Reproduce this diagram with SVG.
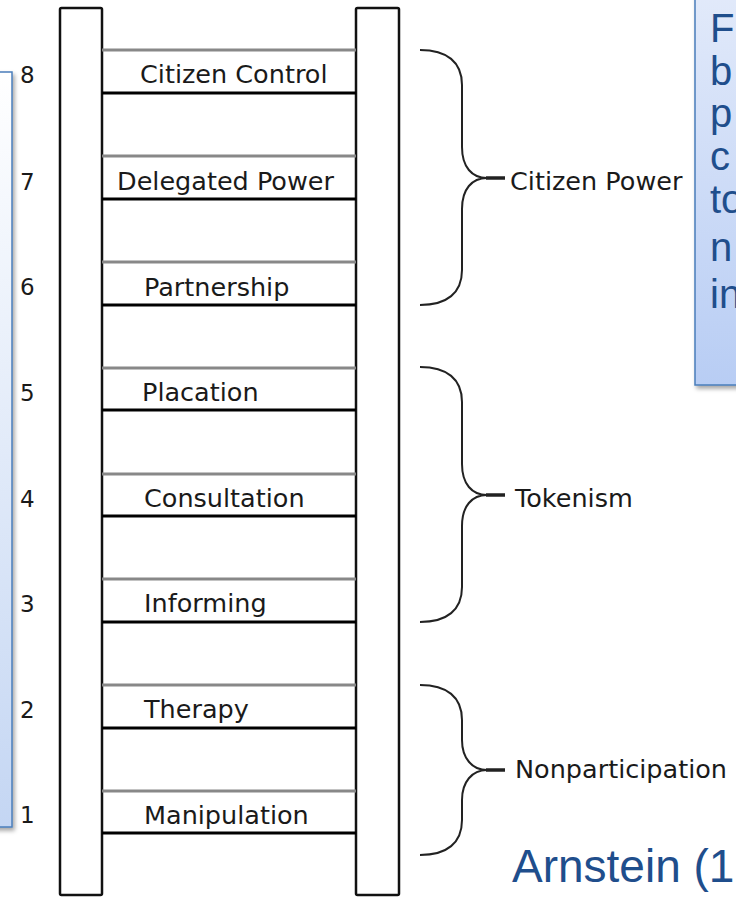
<svg xmlns="http://www.w3.org/2000/svg" width="736" height="897" viewBox="0 0 736 897">
<defs>
  <linearGradient id="gLeft" x1="0" y1="0" x2="0" y2="1">
    <stop offset="0" stop-color="#ffffff"/>
    <stop offset="1" stop-color="#c4d6f3"/>
  </linearGradient>
  <linearGradient id="gRight" x1="0" y1="0" x2="0" y2="1">
    <stop offset="0" stop-color="#e2eafa"/>
    <stop offset="1" stop-color="#b8cdf4"/>
  </linearGradient>
  <filter id="shadow" x="-50%" y="-10%" width="200%" height="120%">
    <feDropShadow dx="2" dy="3" stdDeviation="2" flood-color="#000" flood-opacity="0.35"/>
  </filter>
</defs>
<style>
  .rail { fill: #ffffff; stroke: #111; stroke-width: 2.5; }
  .rtop { stroke: #888; stroke-width: 3; }
  .rbot { stroke: #000; stroke-width: 3; }
  .lbl { font-family: "DejaVu Sans", sans-serif; font-size: 25.5px; fill: #1a1a1a; }
  .num { font-family: "DejaVu Sans", sans-serif; font-size: 23px; fill: #1a1a1a; }
  .brace { fill: none; stroke: #222; stroke-width: 2; }
  .stub { stroke: #222; stroke-width: 3.5; }
  .blue { font-family: "Liberation Sans", Arial, sans-serif; fill: #1f4e8c; }
  .box { stroke: #4a7ebb; stroke-width: 1.5; }
</style>

<g id="left-box">
  <rect class="box" x="-10" y="72" width="22" height="755" fill="url(#gLeft)" filter="url(#shadow)"/>
</g>

<g id="right-box">
  <rect class="box" x="695" y="-10" width="60" height="395" fill="url(#gRight)" filter="url(#shadow)"/>
  <text class="blue" font-size="40" x="710" y="42">F</text>
  <text class="blue" font-size="40" x="710" y="85">b</text>
  <text class="blue" font-size="40" x="710" y="127">p</text>
  <text class="blue" font-size="40" x="710" y="170">c</text>
  <text class="blue" font-size="40" x="710" y="213">to</text>
  <text class="blue" font-size="40" x="710" y="261">n</text>
  <text class="blue" font-size="40" x="710" y="308">in</text>
</g>

<g id="rails">
  <rect class="rail" x="60" y="8" width="42" height="887" rx="1.5"/>
  <rect class="rail" x="356" y="8" width="43" height="887" rx="1.5"/>
</g>

<g id="rung-8">
  <line class="rtop" x1="102" y1="50" x2="356" y2="50"/>
  <line class="rbot" x1="102" y1="93" x2="356" y2="93"/>
  <text class="lbl" x="140" y="83">Citizen Control</text>
  <text class="num" x="20" y="83">8</text>
</g>
<g id="rung-7">
  <line class="rtop" x1="102" y1="156" x2="356" y2="156"/>
  <line class="rbot" x1="102" y1="199" x2="356" y2="199"/>
  <text class="lbl" x="117" y="190">Delegated Power</text>
  <text class="num" x="20" y="190">7</text>
</g>
<g id="rung-6">
  <line class="rtop" x1="102" y1="262" x2="356" y2="262"/>
  <line class="rbot" x1="102" y1="305" x2="356" y2="305"/>
  <text class="lbl" x="144" y="296">Partnership</text>
  <text class="num" x="20" y="295">6</text>
</g>
<g id="rung-5">
  <line class="rtop" x1="102" y1="368" x2="356" y2="368"/>
  <line class="rbot" x1="102" y1="410" x2="356" y2="410"/>
  <text class="lbl" x="142" y="401">Placation</text>
  <text class="num" x="20" y="401">5</text>
</g>
<g id="rung-4">
  <line class="rtop" x1="102" y1="474" x2="356" y2="474"/>
  <line class="rbot" x1="102" y1="516" x2="356" y2="516"/>
  <text class="lbl" x="144" y="507">Consultation</text>
  <text class="num" x="20" y="507">4</text>
</g>
<g id="rung-3">
  <line class="rtop" x1="102" y1="579" x2="356" y2="579"/>
  <line class="rbot" x1="102" y1="622" x2="356" y2="622"/>
  <text class="lbl" x="144" y="612">Informing</text>
  <text class="num" x="20" y="612">3</text>
</g>
<g id="rung-2">
  <line class="rtop" x1="102" y1="685" x2="356" y2="685"/>
  <line class="rbot" x1="102" y1="728" x2="356" y2="728"/>
  <text class="lbl" x="144" y="718">Therapy</text>
  <text class="num" x="20" y="718">2</text>
</g>
<g id="rung-1">
  <line class="rtop" x1="102" y1="791" x2="356" y2="791"/>
  <line class="rbot" x1="102" y1="833" x2="356" y2="833"/>
  <text class="lbl" x="144" y="824">Manipulation</text>
  <text class="num" x="20" y="823">1</text>
</g>

<g id="connectors">
  <path class="brace" d="M420,50 C447,50 462,62 462,85 V147 C462,167 472,178 487,178 C472,178 462,189 462,209 V270 C462,293 447,305 420,305"/>
  <line class="stub" x1="486" y1="178" x2="505" y2="178"/>
  <path class="brace" d="M420,367 C447,367 462,379 462,402 V464 C462,484 472,495 487,495 C472,495 462,506 462,526 V587 C462,610 447,622 420,622"/>
  <line class="stub" x1="486" y1="495" x2="505" y2="495"/>
  <path class="brace" d="M420,685 C447,685 462,697 462,720 V740 C462,758 472,770 487,770 C472,770 462,782 462,800 V820 C462,843 447,855 420,855"/>
  <line class="stub" x1="486" y1="770" x2="505" y2="770"/>
</g>

<g id="group-labels">
  <text class="lbl" x="510" y="190">Citizen Power</text>
  <text class="lbl" x="515" y="507">Tokenism</text>
  <text class="lbl" x="515" y="778">Nonparticipation</text>
</g>

<g id="citation">
  <text class="blue" font-size="46" x="512" y="882">Arnstein (1</text>
</g>
</svg>
